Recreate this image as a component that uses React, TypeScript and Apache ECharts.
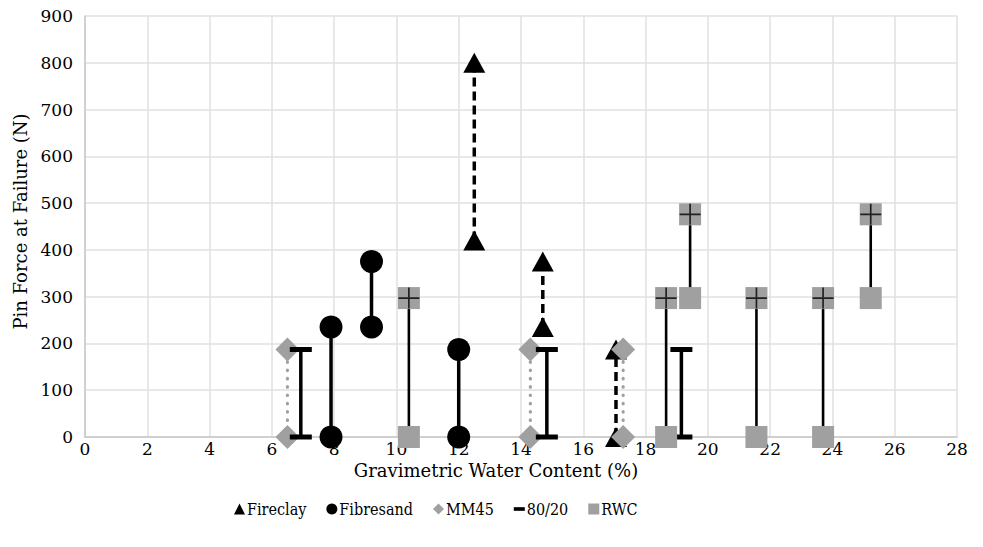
import React, { useEffect, useRef } from "react";
import * as echarts from "echarts";

// Fireclay (triangles, dashed)
const fireclayX = [12.5, 14.7, 17.05];
const fireclayLow = [420, 235, 0];
const fireclayHigh = [800, 375, 187];

// Fibresand (circles, solid)
const fibresandX = [7.9, 9.2, 12.0];
const fibresandLow = [0, 235, 0];
const fibresandHigh = [235, 375, 187];

// MM45 (diamonds, dotted)
const mm45X = [6.5, 14.3, 17.28];
const mm45Low = [0, 0, 0];
const mm45High = [187, 187, 187];

// 80/20 (dash markers, solid)
const x8020 = [6.93, 14.83, 19.15];
const low8020 = [0, 0, 0];
const high8020 = [187, 187, 187];

// RWC (squares, thin solid; upper point marked with +)
const rwcX = [10.4, 18.66, 19.43, 21.56, 23.7, 25.23];
const rwcLow = [0, 0, 297, 0, 0, 297];
const rwcHigh = [297, 297, 476, 297, 297, 476];

const legendNames = ["Fireclay", "Fibresand", "MM45", "80/20", "RWC"];

const FONT = "DejaVu Serif";
const LEGEND_FONT = "DejaVu Serif Condensed";
const GRAY = "#a0a0a0";
const DASH_SYMBOL = "path://M0,0H22V5H0Z";
const DASH_ICON = "path://M0,0H12V4H0Z";
const PLUS_SYMBOL = "path://M0,9.2H20V10.8H0Z M9.2,0H10.8V20H9.2Z";

function pairSeries(
  name: string,
  xs: number[],
  lows: number[],
  highs: number[],
  opts: any
) {
  return xs.map((x, i) => ({
    type: "line",
    name,
    data: [
      [x, lows[i]],
      [x, highs[i]],
    ],
    symbol: opts.symbol,
    symbolSize: opts.symbolSize,
    showSymbol: true,
    showAllSymbol: true,
    itemStyle: { color: opts.color, opacity: 1 },
    lineStyle: opts.lineStyle,
    emphasis: { disabled: true },
    silent: true,
  }));
}

export default function App() {
  const ref = useRef<HTMLDivElement>(null);
  useEffect(() => {
    if (!ref.current) return;
    const chart = echarts.init(ref.current, undefined, { renderer: "svg" });
    const series: any[] = [
      ...pairSeries("Fireclay", fireclayX, fireclayLow, fireclayHigh, {
        symbol: "triangle",
        symbolSize: [22, 20],
        color: "#000",
        lineStyle: { color: "#000", width: 3.5, type: [9, 5] },
      }),
      ...pairSeries("Fibresand", fibresandX, fibresandLow, fibresandHigh, {
        symbol: "circle",
        symbolSize: 23,
        color: "#000",
        lineStyle: { color: "#000", width: 3.5, type: "solid" },
      }),
      ...pairSeries("MM45", mm45X, mm45Low, mm45High, {
        symbol: "diamond",
        symbolSize: 24,
        color: GRAY,
        lineStyle: { color: GRAY, width: 3.2, type: [0.5, 7.8], cap: "round" },
      }),
      ...pairSeries("80/20", x8020, low8020, high8020, {
        symbol: DASH_SYMBOL,
        symbolSize: [22, 5],
        color: "#000",
        lineStyle: { color: "#000", width: 3.5, type: "solid" },
      }),
      ...pairSeries("RWC", rwcX, rwcLow, rwcHigh, {
        symbol: "rect",
        symbolSize: 22,
        color: GRAY,
        lineStyle: { color: "#000", width: 2.6, type: "solid" },
      }),
      {
        type: "scatter",
        name: "RWC upper",
        data: rwcX.map((x, i) => [x, rwcHigh[i]]),
        symbol: PLUS_SYMBOL,
        symbolSize: 21,
        itemStyle: { color: "#000" },
        silent: true,
        z: 5,
      },
    ];

    const iconFor: Record<string, string> = {
      Fireclay: "triangle",
      Fibresand: "circle",
      MM45: "diamond",
      "80/20": DASH_ICON,
      RWC: "rect",
    };
    const colorFor: Record<string, string> = {
      Fireclay: "#000",
      Fibresand: "#000",
      MM45: GRAY,
      "80/20": "#000",
      RWC: GRAY,
    };

    chart.setOption({
      animation: false,
      textStyle: { fontFamily: FONT },
      grid: { left: 85, right: 26, top: 16, bottom: 110 },
      xAxis: {
        type: "value",
        min: 0,
        max: 28,
        interval: 2,
        name: "Gravimetric Water Content (%)",
        nameLocation: "middle",
        nameGap: 22,
        nameTextStyle: { fontFamily: FONT, fontSize: 18, color: "#000", padding: [0, 50, 0, 0] },
        axisLine: { show: true, lineStyle: { color: "#c8c8c8", width: 1.5 } },
        axisTick: { show: false },
        axisLabel: { fontFamily: FONT, fontSize: 17, color: "#000", margin: 3 },
        splitLine: { show: true, lineStyle: { color: "#e0e0e0", width: 1.5 } },
      },
      yAxis: {
        type: "value",
        min: 0,
        max: 900,
        interval: 100,
        name: "Pin Force at Failure (N)",
        nameLocation: "middle",
        nameGap: 56,
        nameTextStyle: { fontFamily: FONT, fontSize: 18, color: "#000", padding: [0, 0, 0, 10] },
        axisLine: { show: true, lineStyle: { color: "#c8c8c8", width: 1.5 } },
        axisTick: { show: false },
        axisLabel: { fontFamily: FONT, fontSize: 17, color: "#000", margin: 12 },
        splitLine: { show: true, lineStyle: { color: "#e0e0e0", width: 1.5 } },
      },
      legend: {
        data: legendNames.map((n) => ({
          name: n,
          icon: iconFor[n],
          itemStyle: { color: colorFor[n], borderWidth: 0 },
        })),
        left: 229,
        top: 496,
        itemWidth: 11,
        itemHeight: 11,
        itemGap: 20,
        selectedMode: false,
        textStyle: { fontFamily: LEGEND_FONT, fontSize: 16, color: "#000", padding: [0, 0, 0, -3] },
      },
      series,
    });
    return () => chart.dispose();
  }, []);
  return (
    <div
      ref={ref}
      style={{ position: "fixed", left: 0, top: 0, width: 983, height: 547, background: "#fff" }}
    />
  );
}
